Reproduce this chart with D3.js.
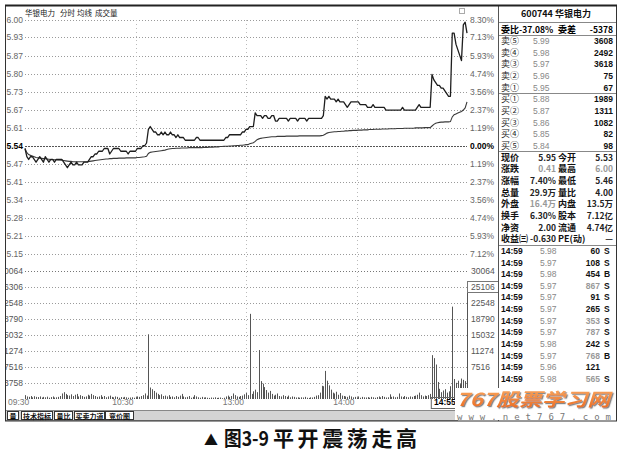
<!DOCTYPE html>
<html><head><meta charset="utf-8">
<script src="https://cdn.jsdelivr.net/npm/d3@7"></script>
<style>body{margin:0;background:#fff}svg{display:block}</style>
</head><body><svg id="c" width="620" height="454"></svg>
<script>
// ---------------- DATA ----------------
const prevClose = 5.54;
const priceSeries = [
5.53,5.50,5.49,5.50,5.50,5.49,5.48,5.49,5.50,5.49,
5.48,5.50,5.49,5.48,5.49,5.49,5.48,5.49,5.49,5.49,
5.49,5.48,5.47,5.46,5.47,5.48,5.47,5.47,5.48,5.47,
5.47,5.47,5.48,5.48,5.48,5.49,5.50,5.50,5.51,5.51,
5.52,5.52,5.52,5.53,5.53,5.53,5.51,5.52,5.53,5.53,
5.53,5.53,5.52,5.52,5.52,5.52,5.51,5.52,5.52,5.52,
5.52,5.53,5.53,5.53,5.54,5.54,5.55,5.60,5.61,5.60,
5.59,5.59,5.58,5.58,5.59,5.58,5.59,5.58,5.58,5.59,
5.58,5.58,5.57,5.58,5.57,5.57,5.57,5.56,5.56,5.56,
5.56,5.56,5.56,5.57,5.57,5.56,5.56,5.56,5.56,5.56,
5.56,5.56,5.56,5.56,5.56,5.56,5.56,5.56,5.56,5.57,
5.57,5.58,5.58,5.58,5.58,5.58,5.58,5.58,5.59,5.59,
5.60,5.60,5.61,5.61,5.61,5.66,5.65,5.65,5.65,5.64,
5.65,5.65,5.64,5.64,5.65,5.65,5.63,5.63,5.64,5.64,
5.64,5.64,5.64,5.63,5.64,5.64,5.64,5.64,5.63,5.64,
5.64,5.64,5.64,5.63,5.64,5.64,5.64,5.64,5.64,5.64,
5.64,5.64,5.65,5.72,5.71,5.72,5.71,5.71,5.71,5.70,
5.71,5.70,5.70,5.70,5.69,5.68,5.69,5.70,5.70,5.70,
5.70,5.70,5.69,5.69,5.69,5.69,5.68,5.68,5.68,5.69,
5.68,5.68,5.68,5.68,5.68,5.68,5.67,5.67,5.67,5.67,
5.67,5.67,5.67,5.67,5.67,5.68,5.67,5.67,5.67,5.67,
5.67,5.67,5.67,5.68,5.69,5.68,5.68,5.68,5.68,5.68,
5.68,5.80,5.78,5.77,5.76,5.76,5.75,5.75,5.74,5.73,
5.72,5.72,5.95,5.95,5.91,5.89,5.87,5.85,5.98,5.99,
5.95];
const avgSeries = [
5.530,5.515,5.508,5.505,5.503,5.500,5.497,5.496,5.495,5.494,
5.493,5.493,5.492,5.491,5.490,5.490,5.489,5.489,5.488,5.488,
5.487,5.486,5.485,5.484,5.483,5.483,5.482,5.482,5.482,5.482,
5.482,5.482,5.482,5.482,5.482,5.483,5.484,5.485,5.486,5.487,
5.488,5.489,5.490,5.491,5.492,5.492,5.493,5.493,5.494,5.494,
5.494,5.495,5.495,5.495,5.495,5.496,5.496,5.496,5.496,5.496,
5.496,5.497,5.497,5.498,5.499,5.500,5.502,5.512,5.516,5.517,
5.518,5.519,5.520,5.521,5.522,5.523,5.524,5.526,5.528,5.529,
5.530,5.530,5.531,5.531,5.531,5.532,5.532,5.532,5.532,5.533,
5.533,5.533,5.533,5.533,5.533,5.533,5.533,5.534,5.534,5.534,
5.535,5.535,5.535,5.536,5.536,5.536,5.537,5.537,5.538,5.538,
5.538,5.539,5.539,5.540,5.540,5.541,5.541,5.542,5.542,5.543,
5.544,5.544,5.547,5.549,5.551,5.556,5.562,5.565,5.567,5.568,
5.569,5.570,5.571,5.572,5.573,5.573,5.573,5.574,5.574,5.574,
5.574,5.574,5.575,5.575,5.575,5.575,5.575,5.575,5.575,5.576,
5.576,5.576,5.576,5.576,5.576,5.576,5.576,5.576,5.576,5.576,
5.576,5.577,5.578,5.582,5.586,5.588,5.589,5.590,5.591,5.591,
5.592,5.592,5.593,5.593,5.594,5.594,5.595,5.595,5.596,5.596,
5.596,5.597,5.597,5.597,5.598,5.598,5.598,5.599,5.599,5.599,
5.600,5.600,5.600,5.600,5.601,5.601,5.601,5.601,5.602,5.602,
5.602,5.602,5.603,5.603,5.603,5.603,5.604,5.604,5.604,5.604,
5.604,5.604,5.605,5.605,5.605,5.605,5.605,5.606,5.606,5.606,
5.606,5.612,5.618,5.622,5.624,5.625,5.626,5.626,5.627,5.627,
5.627,5.628,5.645,5.653,5.656,5.659,5.662,5.665,5.670,5.678,
5.700];
const volumeSeries = [
900,600,500,700,400,650,500,450,600,350,
500,400,550,300,450,600,350,400,500,700,
1300,1600,1200,900,800,1100,700,1000,1200,600,
900,700,500,600,1000,800,1200,900,700,500,
600,900,500,700,400,600,800,500,400,600,
500,300,450,350,500,400,300,350,400,300,
450,600,500,700,900,1300,800,15200,2700,2300,
1900,1500,1200,900,1100,700,800,600,900,500,
600,400,700,500,800,1200,600,400,500,700,
300,500,900,600,400,300,500,350,400,300,
250,350,300,400,250,300,350,200,300,600,
800,500,700,1300,900,600,500,700,800,1100,
1400,900,20000,1200,1800,2200,1600,11500,4200,3600,
2800,2100,1500,1900,1200,800,1000,1300,700,600,
900,700,500,800,400,600,500,350,400,300,
400,350,500,300,250,400,350,500,800,900,
1500,3100,3000,6600,4300,3200,2200,1500,1300,1700,
1000,1400,800,700,600,500,800,600,400,500,
400,600,300,500,400,350,450,300,500,400,
300,450,600,400,700,500,350,400,1100,500,
600,400,500,1300,600,450,700,500,400,600,
500,700,800,1000,1500,900,600,800,700,900,
1200,10300,9600,8100,4000,2400,1600,2000,2300,1500,
1800,3000,21700,4700,3800,4300,3500,4800,4500,4200,
27000];

const pctTicks = [8.30,7.12,5.93,4.74,3.56,2.37,1.19,0,-1.19,-2.37,-3.56,-4.74,-5.93,-7.12];
const priceTickLabels = ["6.00","5.93","5.87","5.80","5.73","5.67","5.61","5.54","5.47","5.41","5.34","5.28","5.21","5.15"];
const pctTickLabels = ["8.30%","7.13%","5.93%","4.74%","3.56%","2.37%","1.19%","0.00%","1.19%","2.37%","3.56%","4.74%","5.93%","7.12%"];
const volTicks = [30064,26306,22548,18790,15032,11274,7516,3758];
const volTickLabelsRight = ["30064","25106","22548","18790","15032","11274","7516"];
const timeLabelMinutes = [0,60,120,180,235];
const timeLabels = ["09:30","10:30","13:00","14:00","14:55"];

const headerItems = ["华银电力","分时","均线","成交量"];
const stockTitle = "600744 华银电力";
const weibi = ["委比","-37.08%","委差","-5378"];
const orderLabels = ["卖⑤","卖④","卖③","卖②","卖①","买①","买②","买③","买④","买⑤"];
const orderPrices = ["5.99","5.98","5.97","5.96","5.95","5.88","5.87","5.86","5.85","5.84"];
const orderVolumes = [3608,2492,3618,75,67,1989,1311,1082,82,98];
const statLabels1 = ["现价","涨跌","涨幅","总量","外盘","换手","净资","收益㈢"];
const statValues1 = ["5.95","0.41","7.40%","29.9万","16.4万","6.30%","2.00","-0.630"];
const statLabels2 = ["今开","最高","最低","量比","内盘","股本","流通","PE(动)"];
const statValues2 = ["5.53","6.00","5.46","4.00","13.5万","7.12亿","4.74亿","—"];
const tradeTimes = ["14:59","14:59","14:59","14:59","14:59","14:59","14:59","14:59","14:59","14:59","14:59","14:59"];
const tradePrices = ["5.98","5.97","5.98","5.97","5.97","5.97","5.97","5.97","5.98","5.97","5.96","5.98"];
const tradeVolumes = ["60","108","454","867","91","265","353","787","242","768","121","565"];
const tradeSides = ["S","S","B","S","S","S","S","S","S","B","","S"];
const tabLabels = ["量","技术指标","量比","买卖力道","竞价图"];
const caption = ["▲","图3-9","平开震荡走高"];
const watermark = ["767股票学习网","www.net767.com"];

// ---------------- SCALES ----------------
const svg = d3.select("#c");
const CJK = "'Noto Sans CJK SC','Noto Sans',sans-serif";
const LAT = "'Liberation Sans',Arial,sans-serif";
const x = d3.scaleLinear().domain([0,240]).range([25,467]);
const pct = d3.scaleLinear().domain([-8.30,8.30]).range([272,19.5]);
const yPrice = d3.scaleLinear().domain([prevClose*(1-0.083), prevClose*(1+0.083)]).range([272,19.5]);
const yVol = d3.scaleLinear().domain([0,30064]).range([399,271]);

svg.append("rect").attr("width",620).attr("height",454).attr("fill","#fff");

const defs = svg.append("defs");
defs.append("clipPath").attr("id","leftclip").append("rect").attr("x",6).attr("y",0).attr("width",500).attr("height",454);
const grad = defs.append("linearGradient").attr("id","wm").attr("x1",0).attr("y1",0).attr("x2",0).attr("y2",1);
grad.append("stop").attr("offset","0%").attr("stop-color","#fbb06a");
grad.append("stop").attr("offset","100%").attr("stop-color","#e8661a");
defs.append("filter").attr("id","shadow").attr("x","-5%").attr("y","-20%").attr("width","115%").attr("height","150%")
  .append("feDropShadow").attr("dx",1.2).attr("dy",1.2).attr("stdDeviation",0.4).attr("flood-color","#888");

// ---------------- GRID ----------------
const g = svg.append("g");
g.selectAll("line.pg").data(pctTicks).join("line")
  .attr("x1",25).attr("x2",467)
  .attr("y1",d=>Math.round(pct(d))+0.5).attr("y2",d=>Math.round(pct(d))+0.5)
  .attr("stroke",d=>d===0?"#555":"#9a9a9a").attr("stroke-width",1)
  .attr("stroke-dasharray",d=>d===0?"2,1":"1,2");
g.selectAll("line.vg").data(volTicks).join("line")
  .attr("x1",25).attr("x2",467)
  .attr("y1",d=>Math.round(yVol(d))+0.5).attr("y2",d=>Math.round(yVol(d))+0.5)
  .attr("stroke",(d,i)=>i===0?"#777":"#9a9a9a").attr("stroke-dasharray","1,2");
g.selectAll("line.tg").data([60,120,180]).join("line")
  .attr("x1",d=>Math.round(x(d))+0.5).attr("x2",d=>Math.round(x(d))+0.5)
  .attr("y1",20).attr("y2",399).attr("stroke","#bbb").attr("stroke-dasharray","1,3");

// ---------------- VOLUME BARS ----------------
svg.append("g").selectAll("line").data(volumeSeries).join("line")
  .attr("x1",(d,i)=>Math.round(x(i))+0.5).attr("x2",(d,i)=>Math.round(x(i))+0.5)
  .attr("y1",yVol(0)).attr("y2",d=>yVol(d))
  .attr("stroke","#555").attr("stroke-width",1);

// ---------------- LINES ----------------
const line = d3.line().x((d,i)=>x(i)).y(d=>yPrice(d));
svg.append("path").attr("d",line(avgSeries)).attr("fill","none").attr("stroke","#3a3a3a").attr("stroke-width",1.1);
svg.append("path").attr("d",line(priceSeries)).attr("fill","none").attr("stroke","#1e1e1e").attr("stroke-width",1.3).attr("stroke-linejoin","round");

// ---------------- AXIS LABELS ----------------
const lg = svg.append("g").attr("clip-path","url(#leftclip)");
lg.selectAll("text.pl").data(priceTickLabels).join("text")
  .attr("x",23).attr("y",(d,i)=>pct(pctTicks[i])+3).attr("text-anchor","end")
  .attr("font-family",LAT).attr("font-size",8.5)
  .attr("font-weight",(d,i)=>pctTicks[i]===0?"bold":"normal")
  .attr("fill",(d,i)=>pctTicks[i]===0?"#000":"#666").text(d=>d);
lg.selectAll("text.vl").data(volTicks).join("text")
  .attr("x",23).attr("y",d=>yVol(d)+3).attr("text-anchor","end")
  .attr("font-family",LAT).attr("font-size",8.5).attr("fill","#555").text(d=>d);
svg.selectAll("text.pr").data(pctTickLabels).join("text")
  .attr("x",470).attr("y",(d,i)=>pct(pctTicks[i])+3)
  .attr("font-family",LAT).attr("font-size",8.5)
  .attr("font-weight",(d,i)=>pctTicks[i]===0?"bold":"normal")
  .attr("fill",(d,i)=>pctTicks[i]===0?"#000":"#666").text(d=>d);
svg.selectAll("text.vr").data(volTickLabelsRight).join("text")
  .attr("x",471).attr("y",(d,i)=>yVol(volTicks[i])+3)
  .attr("font-family",LAT).attr("font-size",8.5).attr("fill","#555").text(d=>d);
svg.append("rect").attr("x",467.5).attr("y",yVol(volTicks[1])-5.5).attr("width",31).attr("height",11)
  .attr("fill","none").attr("stroke","#777");
svg.selectAll("text.tl").data(timeLabels).join("text")
  .attr("x",(d,i)=>i===0?8:x(timeLabelMinutes[i])-2).attr("y",405)
  .attr("text-anchor",(d,i)=>i===0?"start":"end")
  .attr("font-family",LAT).attr("font-size",8.5)
  .attr("font-weight",(d,i)=>i===4?"bold":"normal")
  .attr("fill",(d,i)=>i===4?"#000":"#777").text(d=>d);
svg.append("rect").attr("x",x(timeLabelMinutes[4])-26.5).attr("y",397.5).attr("width",26).attr("height",11)
  .attr("fill","none").attr("stroke","#666");

// header
const hx = [25,60,77,95];
svg.selectAll("text.hd").data(headerItems).join("text")
  .attr("x",(d,i)=>hx[i]).attr("y",16).attr("font-family",CJK).attr("font-size",7.5)
  .attr("fill","#222").text(d=>d);
svg.append("rect").attr("x",459.5).attr("y",8.5).attr("width",5).attr("height",5).attr("fill","none").attr("stroke","#aaa");

// ---------------- RIGHT PANEL ----------------
const rp = svg.append("g").attr("font-family",CJK).attr("font-size",9);
const rowY = i => 29 + i*11.65;
rp.append("text").attr("x",556).attr("y",17).attr("text-anchor","middle").attr("font-weight","bold").attr("fill","#111").text(stockTitle);
rp.append("text").attr("x",501).attr("y",rowY(0)+3.5).attr("font-weight","bold").text(weibi[0]);
rp.append("text").attr("x",519).attr("y",rowY(0)+3.5).attr("font-weight","bold").attr("font-size",8.5).text(weibi[1]);
rp.append("text").attr("x",558).attr("y",rowY(0)+3.5).attr("font-weight","bold").text(weibi[2]);
rp.append("text").attr("x",613).attr("y",rowY(0)+3.5).attr("text-anchor","end").attr("font-weight","bold").attr("font-size",8.5).text(weibi[3]);
orderLabels.forEach((lab,i)=>{
  const y = rowY(i+1)+3.5;
  rp.append("text").attr("x",501).attr("y",y).attr("fill","#222").text(lab);
  rp.append("text").attr("x",533).attr("y",y).attr("font-family",LAT).attr("font-size",8.5).attr("fill","#888").text(orderPrices[i]);
  rp.append("text").attr("x",613).attr("y",y).attr("text-anchor","end").attr("font-family",LAT).attr("font-size",8.5).attr("font-weight","bold").attr("fill","#111").text(orderVolumes[i]);
});
statLabels1.forEach((lab,i)=>{
  const y = rowY(i+11)+3.5;
  rp.append("text").attr("x",501).attr("y",y).attr("font-weight","bold").attr("fill","#111").text(lab);
  rp.append("text").attr("x",556).attr("y",y).attr("text-anchor","end").attr("font-size",8.5).attr("font-weight","bold")
    .attr("fill",(i===1||i===4)?"#999":"#222").text(statValues1[i]);
  rp.append("text").attr("x",558).attr("y",y).attr("font-weight","bold").attr("fill","#111").text(statLabels2[i]);
  rp.append("text").attr("x",613).attr("y",y).attr("text-anchor","end").attr("font-size",8.5).attr("font-weight","bold")
    .attr("fill",i===1?"#999":"#222").text(statValues2[i]);
});
tradeTimes.forEach((t,i)=>{
  const y = rowY(i+19)+3.5;
  rp.append("text").attr("x",501).attr("y",y).attr("font-family",LAT).attr("font-size",8.5).attr("font-weight","bold").attr("fill","#111").text(t);
  rp.append("text").attr("x",540).attr("y",y).attr("font-family",LAT).attr("font-size",8.5).attr("fill","#888").text(tradePrices[i]);
  rp.append("text").attr("x",600).attr("y",y).attr("text-anchor","end").attr("font-family",LAT).attr("font-size",8.5).attr("font-weight","bold")
    .attr("fill",[3,6,7,9,11].includes(i)?"#999":"#111").text(tradeVolumes[i]);
  rp.append("text").attr("x",604).attr("y",y).attr("font-family",LAT).attr("font-size",8.5).attr("font-weight","bold").attr("fill","#111").text(tradeSides[i]);
});
const seps = [22, 35, 93, 151, 245];
svg.selectAll("line.sep").data(seps).join("line")
  .attr("x1",498).attr("x2",616).attr("y1",d=>Math.round(d)+0.5).attr("y2",d=>Math.round(d)+0.5)
  .attr("stroke","#888");

// ---------------- FRAME & TABS ----------------
svg.append("rect").attr("x",5.5).attr("y",410.5).attr("width",452).attr("height",10).attr("fill","#d4d4d4").attr("stroke","#888");
const tabX = [7,21,54,74,105], tabW = [11,31,18,30,28];
svg.selectAll("rect.tab").data(tabLabels).join("rect")
  .attr("x",(d,i)=>tabX[i]+0.5).attr("y",411.5).attr("width",(d,i)=>tabW[i]).attr("height",8)
  .attr("fill","#fff").attr("stroke","#333");
svg.selectAll("text.tab").data(tabLabels).join("text")
  .attr("x",(d,i)=>tabX[i]+tabW[i]/2+0.5).attr("y",418.5).attr("text-anchor","middle")
  .attr("font-family",CJK).attr("font-size",7).attr("font-weight","bold").attr("fill","#111").text(d=>d);

svg.append("line").attr("x1",498.5).attr("x2",498.5).attr("y1",5).attr("y2",421).attr("stroke","#555");
svg.append("rect").attr("x",5.5).attr("y",5.5).attr("width",611).attr("height",415.5)
  .attr("fill","none").attr("stroke","#333").attr("stroke-width",1);
svg.append("line").attr("x1",5).attr("x2",617).attr("y1",5.5).attr("y2",5.5).attr("stroke","#222").attr("stroke-width",2);

// ---------------- WATERMARK ----------------
svg.append("rect").attr("x",455).attr("y",388).attr("width",160).attr("height",32).attr("fill","#fff");
svg.append("text").attr("x",456).attr("y",406).attr("font-family",CJK).attr("font-size",18).attr("font-style","italic").attr("font-weight","bold")
  .attr("fill","url(#wm)").attr("filter","url(#shadow)")
  .attr("textLength",154).attr("lengthAdjust","spacingAndGlyphs").text(watermark[0]);
svg.append("text").attr("x",457).attr("y",420).attr("font-family","'DejaVu Sans Mono',monospace").attr("font-size",9)
  .attr("fill","#777").attr("textLength",154).attr("lengthAdjust","spacing").text(watermark[1]);

// ---------------- CAPTION ----------------
svg.append("text").attr("x",204).attr("y",445).attr("font-family",CJK).attr("font-size",14).attr("fill","#111").text(caption[0]);
svg.append("text").attr("x",224).attr("y",446).attr("font-family",CJK).attr("font-size",20).attr("font-weight","bold").attr("fill","#111")
  .attr("textLength",45).attr("lengthAdjust","spacingAndGlyphs").text(caption[1]);
svg.append("text").attr("x",273).attr("y",446).attr("font-family",CJK).attr("font-size",21).attr("font-weight","bold").attr("fill","#111")
  .attr("textLength",144).attr("lengthAdjust","spacing").text(caption[2]);
</script></body></html>
